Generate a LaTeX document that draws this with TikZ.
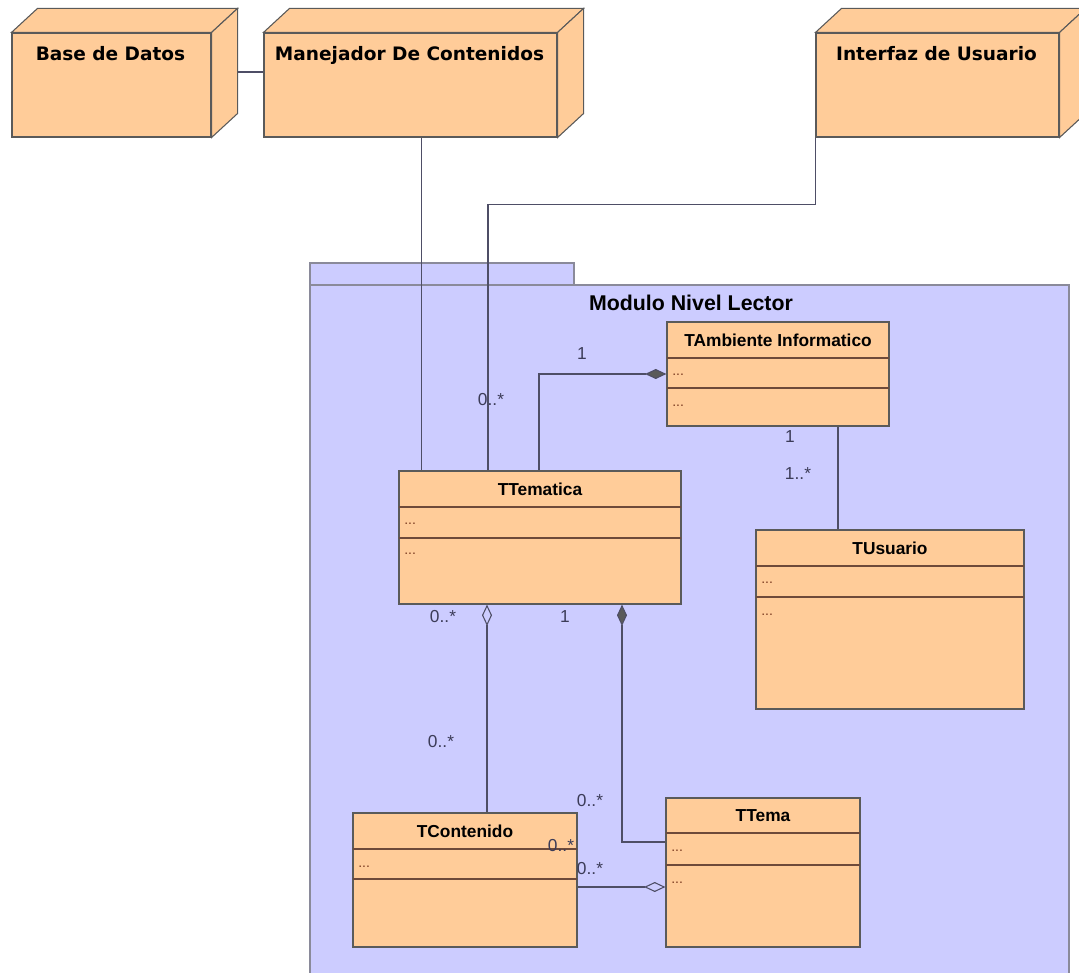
\documentclass[tikz,border=0pt]{standalone}
\usepackage{fontspec}
\setmainfont{Liberation Sans}
\newfontfamily\nodefont{DejaVu Sans}
\usetikzlibrary{arrows.meta,fit,calc}

\definecolor{peach}{HTML}{FFCC99}
\definecolor{lav}{HTML}{CCCCFF}
\definecolor{edge}{HTML}{5A5A5A}
\definecolor{wire}{HTML}{4E4E66}
\definecolor{sepc}{HTML}{6E4A3A}
\definecolor{dotc}{HTML}{7A3A20}
\definecolor{multc}{HTML}{3C3C58}
\definecolor{pkgedge}{HTML}{8A8A9A}

% class box: frame, two compartment separators, title and attribute dots
\newcommand\umlclass[8]{%
  \node[classbox, fit={(#2,#3) (#4,#5)}] (#1) {};
  \draw[sepline] (#2,#6) -- (#4,#6) (#2,#7) -- (#4,#7);
  \node[classtitle] (#1-title) at ({(#2+#4)/2},{(#3+#6)/2}) {#8};
  \node[dotstext] (#1-attr) at ({#2+5},{#6+18}) {...};
}

% deployment node: front face plus the top and side faces
\newcommand\depnode[6]{%
  \node[depface, fit={(#2,#3) (#4,#5)}] (#1) {};
  \draw[depface] (#1.north west) -- ([shift={(26,-24)}]#1.north west)
     -- ([shift={(26,-24)}]#1.north east) -- (#1.north east) -- cycle;
  \draw[depface] (#1.north east) -- ([shift={(26,-24)}]#1.north east)
     -- ([shift={(26,-24)}]#1.south east) -- (#1.south east) -- cycle;
  \node[deptitle, anchor=north] (#1-title) at ([shift={(-1,14)}]#1.north) {#6};
}

\begin{document}
\begin{tikzpicture}[x=0.75pt,y=-0.75pt,
  depface/.style={draw=edge, fill=peach, line width=0.8pt, inner sep=0pt},
  deptitle/.style={font=\nodefont\bfseries\fontsize{13.9}{16}\selectfont, text=black, inner sep=0pt},
  classbox/.style={draw=edge, fill=peach, line width=0.9pt, inner sep=0pt},
  sepline/.style={draw=sepc, line width=0.8pt},
  classtitle/.style={font=\bfseries\fontsize{13}{15}\selectfont, text=black, inner sep=0pt},
  dotstext/.style={font=\fontsize{10.5}{12}\selectfont, text=dotc, inner sep=0pt, anchor=base west},
  pkg/.style={draw=pkgedge, fill=lav, line width=0.8pt, inner sep=0pt},
  wireline/.style={draw=wire, line width=0.8pt},
  compo/.style={wireline, -{Diamond[length=16pt,width=7.5pt,fill=edge]}, draw=wire},
  aggr/.style={wireline, -{Diamond[open,length=16pt,width=7.5pt,fill=lav]}},
  mult/.style={font=\fontsize{13}{15}\selectfont, text=multc, inner sep=0pt}]

\useasboundingbox (0,0) rectangle (1079,973);
\clip (0,0) rectangle (1079,973);
\fill[white] (0,0) rectangle (1079,973);

% package with its tab
\node[pkg, fit={(310,263) (574,285)}] (pkgtab) {};
\node[pkg, fit={(310,285) (1069,990)}] (pkg) {};
\node[font=\bfseries\fontsize{16}{18}\selectfont, inner sep=0pt] (pkg-title) at (691,303) {Modulo Nivel Lector};

% deployment nodes
\depnode{db}{12}{33}{211}{137}{Base de Datos}
\depnode{mgr}{264}{33}{557}{137}{Manejador De Contenidos}
\depnode{ui}{816}{33}{1059}{137}{Interfaz de Usuario}

% class boxes
\umlclass{tamb}{667}{322}{889}{426}{358}{388}{TAmbiente Informatico}
\node[dotstext] (tamb-ops) at (672,407) {...};
\umlclass{tte}{399}{471}{681}{604}{507}{538}{TTematica}
\node[dotstext] (tte-ops) at (404,555) {...};
\umlclass{tusr}{756}{530}{1024}{709}{566}{597}{TUsuario}
\node[dotstext] (tusr-ops) at (761,615) {...};
\umlclass{tcon}{353}{813}{577}{947}{849}{879}{TContenido}
\umlclass{ttema}{666}{798}{860}{947}{833}{865}{TTema}
\node[dotstext] (ttema-ops) at (671,883) {...};

% connectors
\draw[wireline] ([shift={(26,-13)}]db.east) -- ([shift={(0,-13)}]mgr.west);
\draw[wireline] ([shift={(11,0)}]mgr.south) -- ([shift={(11,0)}]mgr.south |- tte.north);
\draw[wireline] (ui.south west) -- ++(0,67) -| ([shift={(-52,0)}]tte.north);
\draw[compo] ([shift={(-1,0)}]tte.north) |- (tamb.west);
\draw[wireline] ([shift={(60,0)}]tamb.south) -- ([shift={(60,0)}]tamb.south |- tusr.north);
\draw[aggr] ([shift={(22,0)}]tcon.north) -- ([shift={(22,0)}]tcon.north |- tte.south);
\draw[compo] ([shift={(0,-30.5)}]ttema.west) -| ([shift={(82,0)}]tte.south);
\draw[aggr] ([shift={(0,7)}]tcon.east) -- ([shift={(0,7)}]tcon.east -| ttema.west);

% redraw class frames above the connector ends
\foreach \c in {tamb,tte,tusr,tcon,ttema} \draw[draw=edge, line width=0.9pt] (\c.north west) rectangle (\c.south east);

% multiplicities
\node[mult] (m1) at (582,354) {1};
\node[mult] (m2) at (491,400) {0..*};
\node[mult] (m3) at (790,437) {1};
\node[mult] (m4) at (798,474) {1..*};
\node[mult] (m5) at (443,617) {0..*};
\node[mult] (m6) at (565,617) {1};
\node[mult] (m7) at (441,742) {0..*};
\node[mult] (m8) at (590,801) {0..*};
\node[mult] (m9) at (561,846) {0..*};
\node[mult] (m10) at (590,869) {0..*};
\end{tikzpicture}
\end{document}
